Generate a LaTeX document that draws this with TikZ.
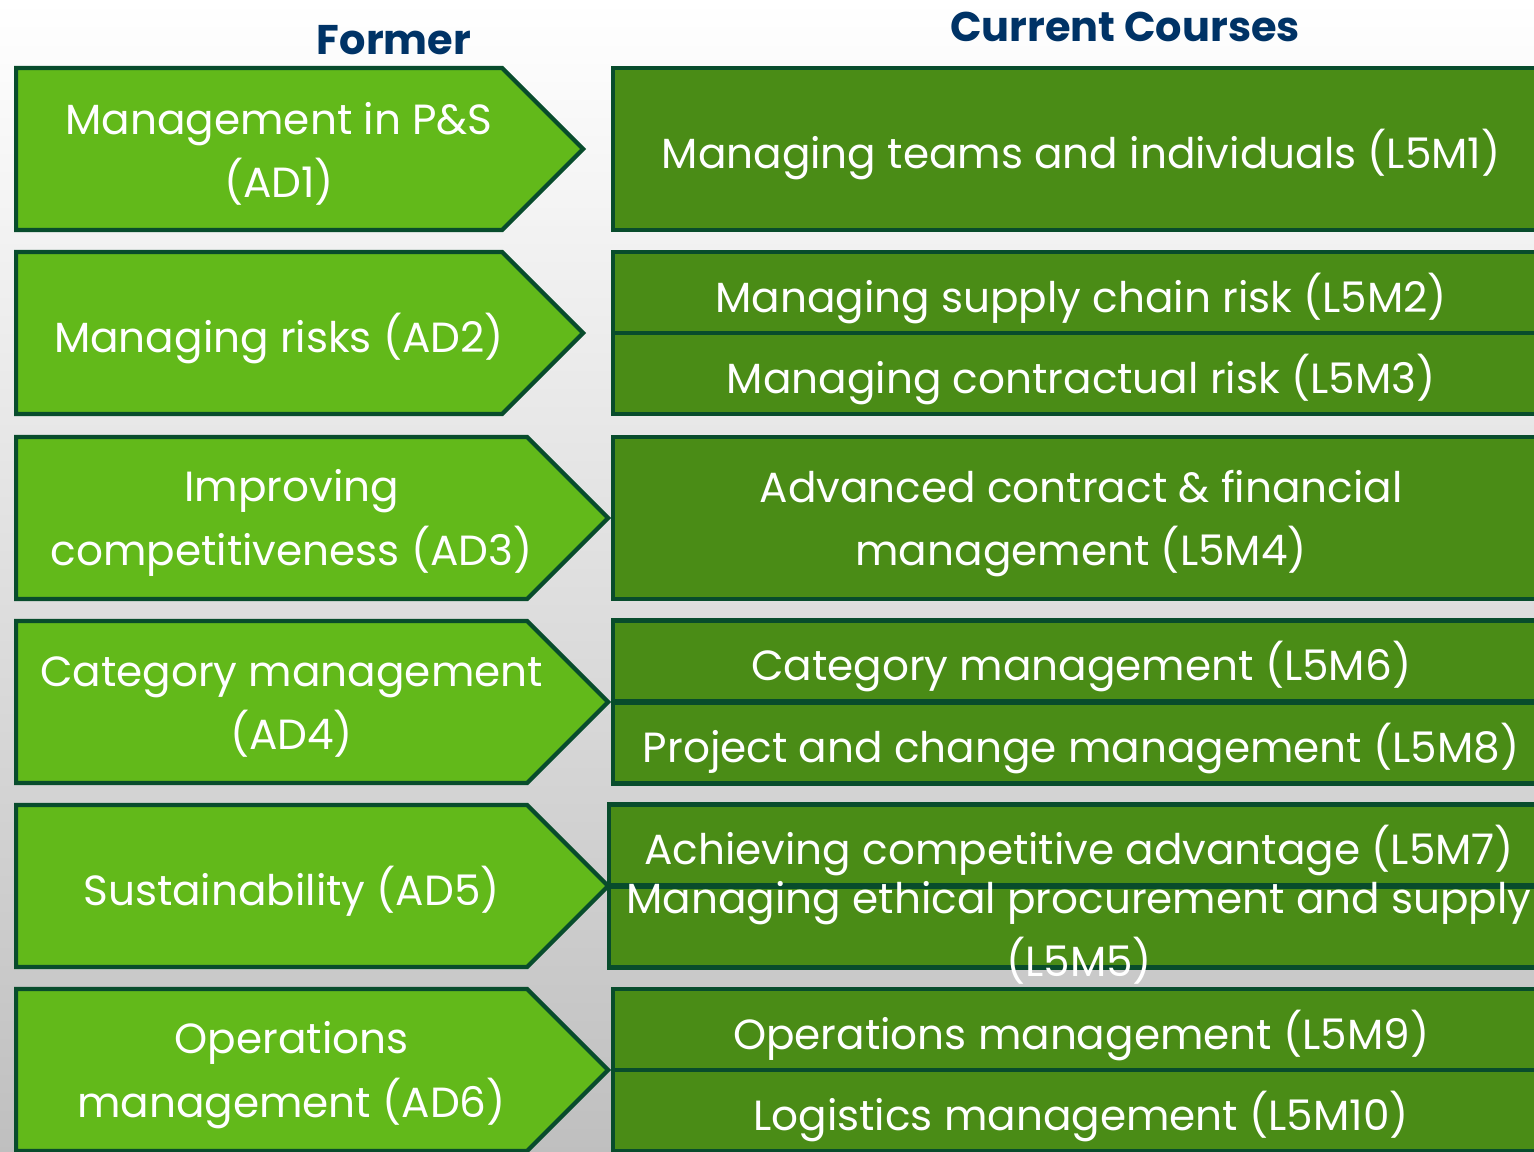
\documentclass[tikz,border=0pt]{standalone}
\usepackage{fontspec}
\setmainfont{Poppins}
\usetikzlibrary{shapes.symbols}

\definecolor{formerfill}{RGB}{98,185,26}
\definecolor{currentfill}{RGB}{74,140,22}
\definecolor{edgegreen}{RGB}{8,76,44}
\definecolor{headblue}{RGB}{0,51,102}

\begin{document}
\begin{tikzpicture}[x=1cm, y=-1cm,
    every node/.style={font=\fontsize{12}{18}\selectfont, text=white},
    former/.style={signal, signal to=east, signal pointer angle=90, draw=edgegreen,
        line width=1.2pt, fill=formerfill, minimum height=1.62cm, anchor=west, inner sep=0pt},
    formertext/.style={align=center, xshift=2mm, yshift=-0.5mm},
    current/.style={rectangle, draw=edgegreen, line width=1.2pt, fill=currentfill,
        minimum width=9.36cm, anchor=west, align=center, inner sep=0pt, text depth=0pt},
    heading/.style={font=\bfseries\fontsize{11.8}{14}\selectfont, text=headblue}]

    % Background
    \useasboundingbox (0,0) rectangle (15.34,11.51);
    \clip (0,0) rectangle (15.34,11.51);
    \shade[top color=white, bottom color=black!25] (0,0) rectangle (15.34,11.51);

    % Headings
    \node[heading] (former) at (3.94,0.40) {Former};
    \node[heading] (current) at (11.25,0.27) {Current Courses};

    % Former courses
    \node[former, minimum width=5.67cm] (ad1) at (0.14,1.49) {};
    \node[former, minimum width=5.67cm] (ad2) at (0.14,3.33) {};
    \node[former, minimum width=5.92cm] (ad3) at (0.14,5.18) {};
    \node[former, minimum width=5.92cm] (ad4) at (0.14,7.02) {};
    \node[former, minimum width=5.92cm] (ad5) at (0.14,8.86) {};
    \node[former, minimum width=5.92cm] (ad6) at (0.14,10.70) {};
    \node[formertext] at (ad1.center) {Management in P\&S\\(AD1)};
    \node[formertext] at (ad2.center) {Managing risks (AD2)};
    \node[formertext] at (ad3.center) {Improving\\competitiveness (AD3)};
    \node[formertext] at (ad4.center) {Category management\\(AD4)};
    \node[formertext] at (ad5.center) {Sustainability (AD5)};
    \node[formertext] at (ad6.center) {Operations\\management (AD6)};

    % Current courses
    \node[current, minimum height=1.62cm] (m1) at (6.11,1.49) {Managing teams and individuals (L5M1)};
    \node[current, minimum height=0.81cm] (m2) at (6.11,2.925) {Managing supply chain risk (L5M2)};
    \node[current, minimum height=0.81cm] (m3) at (6.11,3.735) {Managing contractual risk (L5M3)};
    \node[current, minimum height=1.62cm] (m4) at (6.11,5.18) {Advanced contract \& financial\\management (L5M4)};
    \node[current, minimum height=0.81cm] (m6) at (6.11,6.61) {Category management (L5M6)};
    \node[current, minimum height=0.81cm] (m8) at (6.11,7.43) {Project and change management (L5M8)};
    \node[current, minimum height=0.81cm, minimum width=9.40cm] (m7) at (6.07,8.45) {Achieving competitive advantage (L5M7)};
    \node[current, minimum height=0.81cm, minimum width=9.40cm] (m5) at (6.07,9.27) {};
    \node at ([yshift=-0.6mm]m5.center) [align=center] {Managing ethical procurement and supply\\(L5M5)};
    \node[current, minimum height=0.81cm] (m9) at (6.11,10.295) {Operations management (L5M9)};
    \node[current, minimum height=0.81cm] (m10) at (6.11,11.105) {Logistics management (L5M10)};
\end{tikzpicture}
\end{document}
